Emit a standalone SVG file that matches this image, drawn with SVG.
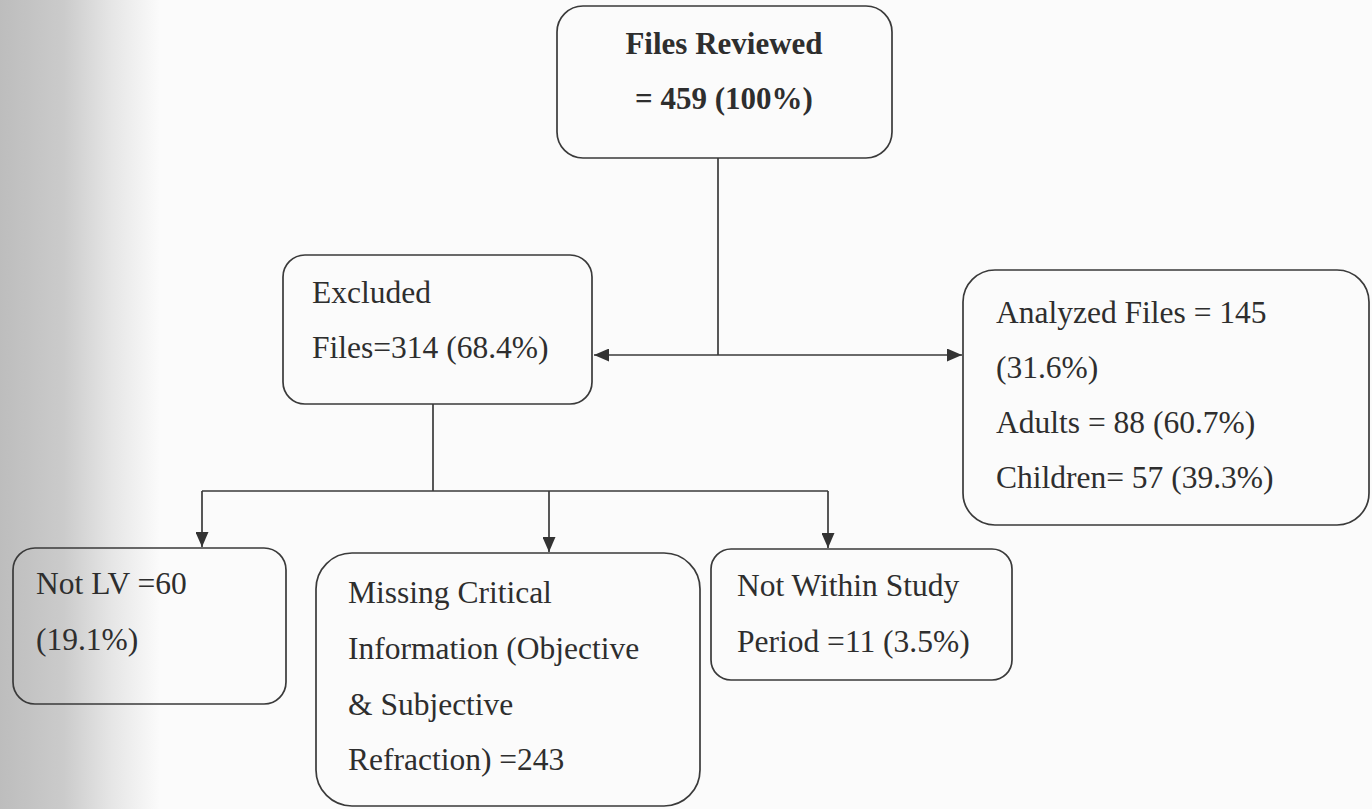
<svg xmlns="http://www.w3.org/2000/svg" width="1372" height="809" viewBox="0 0 1372 809">
<style>
.box{fill:none;stroke:#3a3a3a;stroke-width:1.7}
.t{font-family:"Liberation Serif","Times New Roman",serif;font-size:31.5px;fill:#2e2e2e}
.b{font-weight:bold;font-size:31px;text-anchor:middle}
.c{fill:none;stroke:#3a3a3a;stroke-width:1.7}
</style>
<defs>
<linearGradient id="edge" x1="0" y1="0" x2="1" y2="0">
<stop offset="0" stop-color="#bdbdbd"/>
<stop offset="0.4" stop-color="#cbcbcb"/>
<stop offset="0.7" stop-color="#e6e6e6"/>
<stop offset="1" stop-color="#fbfbfb"/>
</linearGradient>
<marker id="ah" markerUnits="userSpaceOnUse" markerWidth="15" markerHeight="13" refX="15" refY="6.5" orient="auto">
<path d="M0,0 L15,6.5 L0,13 z" fill="#333"/>
</marker>
</defs>
<rect width="1372" height="809" fill="#fbfbfb"/>
<rect width="160" height="809" fill="url(#edge)"/>
<g id="connectors">
<path class="c" d="M718 158 V355"/>
<path class="c" d="M718 355 H594" marker-end="url(#ah)"/>
<path class="c" d="M718 355 H962" marker-end="url(#ah)"/>
<path class="c" d="M433 404 V491"/>
<path class="c" d="M202 491 H828"/>
<path class="c" d="M202 491 V547" marker-end="url(#ah)"/>
<path class="c" d="M549 491 V552" marker-end="url(#ah)"/>
<path class="c" d="M828 491 V548" marker-end="url(#ah)"/>
</g>
<g id="files-reviewed">
<rect class="box" x="557" y="6" width="335" height="152" rx="26"/>
<text class="t b" x="724" y="54">Files Reviewed</text>
<text class="t b" x="724" y="109">= 459 (100%)</text>
</g>
<g id="excluded">
<rect class="box" x="283" y="255" width="309" height="149" rx="22"/>
<text class="t" x="312" y="303">Excluded</text>
<text class="t" x="312" y="358">Files=314 (68.4%)</text>
</g>
<g id="analyzed">
<rect class="box" x="963" y="270" width="406" height="255" rx="32"/>
<text class="t" x="996" y="323">Analyzed Files = 145</text>
<text class="t" x="996" y="378">(31.6%)</text>
<text class="t" x="996" y="433">Adults = 88 (60.7%)</text>
<text class="t" x="996" y="488">Children= 57 (39.3%)</text>
</g>
<g id="not-lv">
<rect class="box" x="13" y="548" width="273" height="156" rx="22"/>
<text class="t" x="36" y="594">Not LV =60</text>
<text class="t" x="36" y="650">(19.1%)</text>
</g>
<g id="missing">
<rect class="box" x="316" y="553" width="384" height="253" rx="36"/>
<text class="t" x="348" y="603">Missing Critical</text>
<text class="t" x="348" y="659">Information (Objective</text>
<text class="t" x="348" y="715">&amp; Subjective</text>
<text class="t" x="348" y="770">Refraction) =243</text>
</g>
<g id="not-within">
<rect class="box" x="711" y="549" width="301" height="131" rx="20"/>
<text class="t" x="737" y="596">Not Within Study</text>
<text class="t" x="737" y="652">Period =11 (3.5%)</text>
</g>
</svg>
